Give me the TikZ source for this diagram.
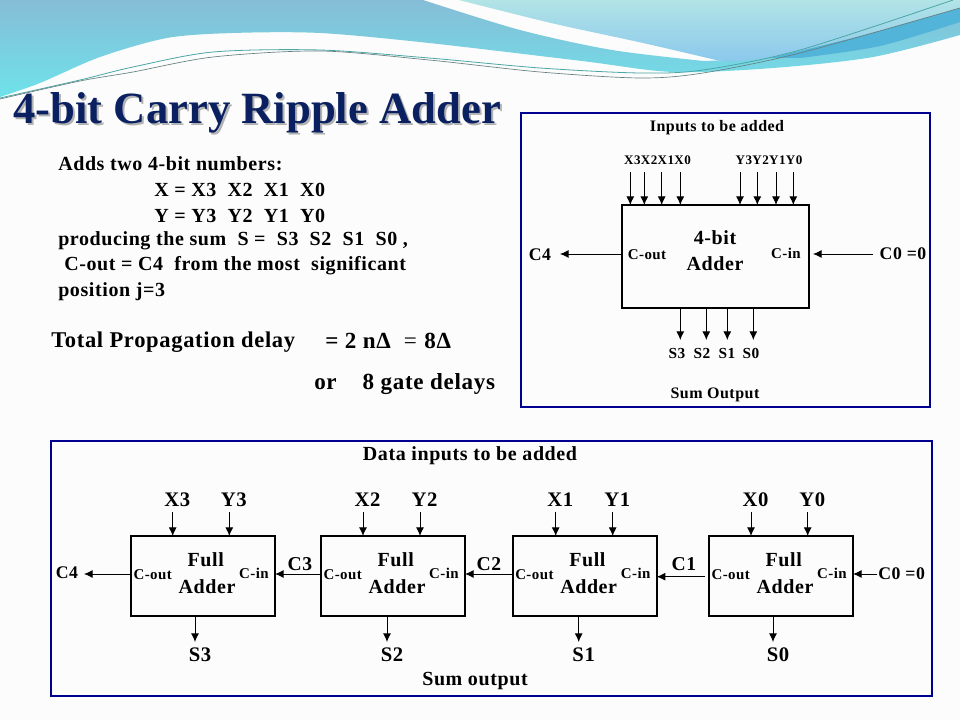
\documentclass[tikz,border=0pt]{standalone}
\usepackage{fontspec}
\usetikzlibrary{arrows.meta}
\setmainfont{Liberation Serif}
\newfontfamily\wideserif[LetterSpace=3]{Liberation Serif}

\definecolor{framecol}{HTML}{000090}
\definecolor{titlecol}{HTML}{0A2060}
\definecolor{wavetop}{HTML}{86BDD6}
\definecolor{wavelow}{HTML}{6EE2EA}
\definecolor{righttop}{HTML}{B2E4E6}
\definecolor{rightlow}{HTML}{8AC8EC}
\definecolor{stripecol}{HTML}{52B4D8}

\tikzset{
    lbl/.style={font=\wideserif\bfseries\fontsize{#1}{#1}\selectfont, inner sep=0pt},
    desctxt/.style={lbl=15},
    delaytxt/.style={lbl=17.3},
    subtxt/.style={lbl=12},
    bitstxt/.style={lbl=9.8},
    porttxt/.style={lbl=11.2},
    captxt/.style={lbl=13.3},
    addtxt/.style={lbl=15},
    titletxt/.style={font=\bfseries\fontsize{33.5}{36}\selectfont, anchor=west, inner sep=0pt},
    frame/.style={draw=framecol, line width=2pt},
    block/.style={draw, line width=1.5pt, inner sep=0pt, outer sep=0pt},
    sig/.style={-{Latex[length=6.5pt,width=6pt]}, line width=0.7pt},
}

\begin{document}
\begin{tikzpicture}[x=0.75pt, y=-0.75pt]
    \useasboundingbox (0,0) rectangle (960,720);
    \fill[white!99!black] (0,0) rectangle (960,720);

    %% Background waves
    % Large wave
    \shade[top color=wavetop, bottom color=wavelow]
        (0,0) -- (423,0) -- plot[smooth] coordinates {(423,0) (520,30) (612,50) (704,61)}
        -- plot[smooth] coordinates {(704,61) (800,52) (960,8)}
        -- (960,35) -- plot[smooth] coordinates {(960,35) (873,57) (773,68) (673,72) (582,61) (429,43) (320,33) (233,33) (167,38) (100,57) (40,83) (0,97)}
        -- cycle;
    % Right wave
    \shade[top color=righttop, bottom color=rightlow]
        (459,0) -- plot[smooth] coordinates {(459,0) (551,23) (643,43) (716,60)}
        -- plot[smooth] coordinates {(716,60) (740,61) (800,52) (960,8)}
        -- (960,0) -- cycle;
    % Darker stripe
    \fill[stripecol] (770,58) -- plot[smooth] coordinates {(770,58) (860,36) (960,8)}
        -- (960,22) -- plot[smooth] coordinates {(960,22) (880,46) (800,58)} -- cycle;

    % Thin lines
    \draw[teal!70, line width=0.6pt] plot[smooth] coordinates {(0,98) (80,80) (133,67) (213,52) (320,50) (429,58) (540,68) (640,73) (703,70) (800,50) (953,0)};
    \draw[gray!80!teal, line width=0.5pt] plot[smooth] coordinates {(0,99) (80,81) (133,72) (213,57) (320,51) (429,60) (540,72) (640,78) (703,73) (800,53) (960,8)};

    %% Title
    \node[titletxt, text=black!30] (titleshadow) at (15,115) {4-bit Carry Ripple Adder};
    \node[titletxt, text=titlecol] (title) at (13,113) {4-bit Carry Ripple Adder};

    %% Description
    \node[desctxt, anchor=west] (adds) at (58,164) {Adds two 4-bit numbers:};
    \node[desctxt, anchor=west] (xnum) at (154,190) {X = X3\ \ X2\ \ X1\ \ X0};
    \node[desctxt, anchor=west] (ynum) at (154,216) {Y = Y3\ \ Y2\ \ Y1\ \ Y0};
    \node[desctxt, anchor=west] (sum) at (58,241) {producing the sum\ \ S =\ \ S3\ \ S2\ \ S1\ \ S0 ,};
    \node[desctxt, anchor=west] (cout) at (64,266) {C-out = C4\ \ from the most\ \ significant};
    \node[desctxt, anchor=west] (pos) at (58,292) {position j=3};

    % Delay
    \node[lbl=16.9, anchor=west] (delay) at (51,342) {Total Propagation delay};
    \node[delaytxt, anchor=west] (delayval) at (325,341) {= 2 nΔ\ \ {\mdseries=}\,\,8Δ};
    \node[delaytxt, anchor=west] (gates) at (314,384) {or\ \ \ \ 8 gate delays};

    %% 4-bit adder overview
    \draw[frame] (521,113) rectangle (930,407);
    \node[subtxt] (inputs) at (717,127.5) {Inputs to be added};
    \node[bitstxt] (xbits) at (657.5,160) {X3X2X1X0};
    \node[bitstxt] (ybits) at (769,160) {Y3Y2Y1Y0};
    \node[block, minimum width=140.25pt, minimum height=77.25pt] (adder) at (715.5,256.5) {};
    \node[addtxt] (adderone) at (715,238) {4-bit};
    \node[addtxt] (addertwo) at (715,264) {Adder};
    \node[porttxt] (coutlbl) at (647,255) {C-out};
    \node[porttxt] (cinlbl) at (786,253) {C-in};

    % Input arrows
    \foreach \nm/\xpos in {xa/630.3, xb/644.3, xc/661.7, xd/680.3, ya/740, yb/757.3, yc/776, yd/793.3} {
        \coordinate (\nm) at (\xpos,172);
        \draw[sig] (\nm) -- (\nm |- adder.north);
    }

    % Sum arrows
    \foreach \nm/\xpos/\xtxt/\txt in {sa/680.3/677/S3, sb/706.3/702/S2, sc/727.3/727/S1, sd/753.3/751/S0} {
        \node[lbl=11.5] (\nm) at (\xtxt,353) {\txt};
        \coordinate (\nm end) at (\xpos,340);
        \draw[sig] (\nm end |- adder.south) -- (\nm end);
    }
    \node[subtxt] (sumout) at (715,395) {Sum Output};

    % Carry arrows
    \node[captxt] (cfour) at (540,255) {C4};
    \node[captxt] (czero) at (903,254) {C0 =0};
    \coordinate (cfourend) at (560,254);
    \coordinate (czerostart) at (873,254);
    \coordinate (czeroend) at (813,254);
    \draw[sig] (adder.west |- cfourend) -- (cfourend);
    \draw[sig] (czerostart) -- (czeroend);

    %% Ripple chain
    \draw[frame] (51,441) rectangle (932,696);
    \node[addtxt] (datain) at (470,456) {Data inputs to be added};
    \node[addtxt] (sumlbl) at (475,681) {Sum output};

    \foreach \j/\lft/\xa/\ya/\sa in {3/131/172.7/229.3/195, 2/321/363/420/387, 1/512.7/555.7/612.7/578.7, 0/709/751/807.7/773} {
        \node[block, anchor=north west, minimum width=108pt, minimum height=60pt] (fa\j) at (\lft,536) {};
        \node[addtxt] (full\j) at (\lft+74.7,560) {Full};
        \node[addtxt] (add\j) at (\lft+76,587) {Adder};
        \node[porttxt] (out\j) at (\lft+21.7,575) {C-out};
        \node[porttxt] (in\j) at (\lft+123,573) {C-in};
        % data inputs
        \node[lbl=15.5] (x\j) at (\xa+4.5,500) {X\j};
        \node[lbl=15.5] (y\j) at (\ya+4.5,500) {Y\j};
        \coordinate (xs\j) at (\xa,512);
        \coordinate (ys\j) at (\ya,512);
        \draw[sig] (xs\j) -- (xs\j |- fa\j.north);
        \draw[sig] (ys\j) -- (ys\j |- fa\j.north);
        % sum output
        \node[lbl=15.5] (s\j) at (\sa+5,655) {S\j};
        \coordinate (se\j) at (\sa,642);
        \draw[sig] (se\j |- fa\j.south) -- (se\j);
    }

    % Carries between blocks
    \node[lbl=14.7] (cthree) at (300,564) {C3};
    \node[lbl=14.7] (ctwo) at (489,564) {C2};
    \node[lbl=14.7] (cone) at (684,564) {C1};
    \node[captxt] (cfive) at (67,573) {C4};
    \node[captxt] (czeroin) at (901.6,574) {C0 =0};
    \coordinate (leftend) at (84,574);
    \coordinate (conestart) at (705,576.7);
    \coordinate (czeroinstart) at (877,574);
    \draw[sig] (fa2.west |- leftend) -- (fa3.east |- leftend);
    \draw[sig] (fa1.west |- leftend) -- (fa2.east |- leftend);
    \draw[sig] (conestart) -- (fa1.east |- conestart);
    \draw[sig] (fa3.west |- leftend) -- (leftend);
    \draw[sig] (czeroinstart) -- (fa0.east |- czeroinstart);
\end{tikzpicture}
\end{document}
